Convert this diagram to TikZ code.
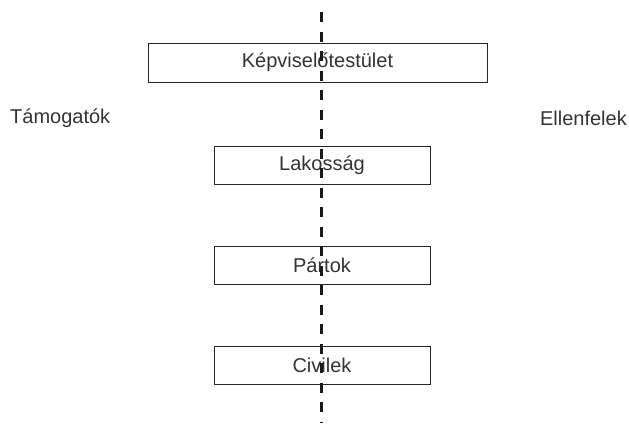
\documentclass[tikz,border=0pt]{standalone}
\usepackage{fontspec}
\setmainfont{Liberation Sans}
\begin{document}
\begin{tikzpicture}[x=1pt,y=1pt,
  box/.style={draw=black!85, line width=0.9pt, inner sep=0pt, font=\fontsize{20}{22}\selectfont, text=black!80},
  lbl/.style={font=\fontsize{20}{22}\selectfont, text=black!80, inner sep=0pt},
  divider/.style={line width=3pt, dash pattern=on 10pt off 9.5pt, black!90}]
\useasboundingbox (0,0) rectangle (629,-423);
\node[box, minimum width=339pt, minimum height=39pt] (kep) at (317.5,-62.5) {Képviselőtestület};
\node[box, minimum width=216pt, minimum height=38pt] (lak) at (322,-165) {Lakosság};
\node[box, minimum width=216pt, minimum height=38pt] (par) at (322,-265) {Pártok};
\node[box, minimum width=216pt, minimum height=38pt] (civ) at (322,-365) {Civilek};
\node[lbl, anchor=west] (tam) at (10,-118) {Támogatók};
\node[lbl, anchor=east] (ell) at (627,-118) {Ellenfelek};
\coordinate (top) at (321,-12);
\coordinate (bot) at (321,-423);
\draw[divider] (top) -- (bot);
\end{tikzpicture}
\end{document}
